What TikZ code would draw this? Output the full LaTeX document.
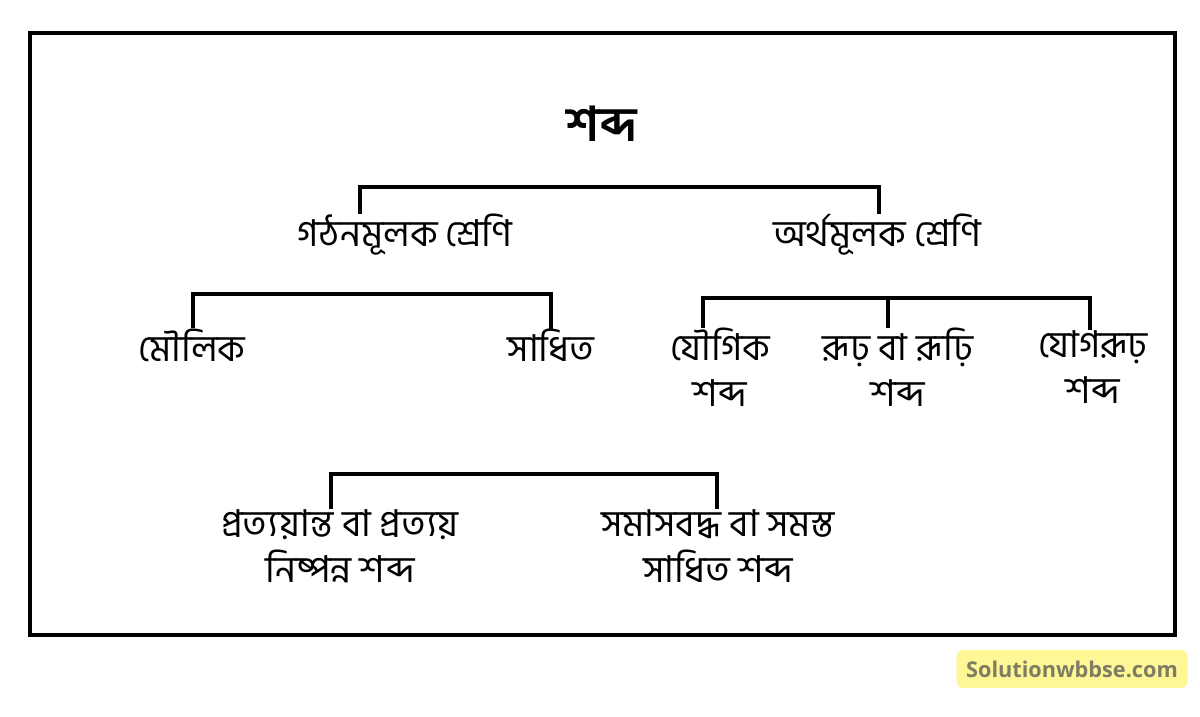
\documentclass[tikz,border=0pt]{standalone}
\usepackage{fontspec}
\newfontfamily\bn[Script=Bengali]{Hind Siliguri}
\newfontfamily\wm{Open Sans}
\definecolor{wmyellow}{RGB}{255,246,150}
\definecolor{wmgray}{RGB}{125,125,100}

\begin{document}
\begin{tikzpicture}[x=1pt,y=-1pt,
    lbl/.style={font=\bn\fontsize{37}{46}\selectfont, inner sep=0pt, align=center},
    bar/.style={line width=4pt}]
    \useasboundingbox (0,0) rectangle (1200,716);
    \draw [line width=4pt] (30,33) rectangle (1175,635);

    % top
    \node[lbl,font=\bn\bfseries\fontsize{48}{50}\selectfont] (shabda) at (602,124) {শব্দ};
    \node[lbl] (gathan) at (405,235) {গঠনমূলক শ্রেণি};
    \node[lbl] (artha) at (877,235) {অর্থমূলক শ্রেণি};
    \coordinate (b1l) at (360,187);
    \coordinate (b1r) at (879,187);
    \draw [bar] (b1l |- gathan.north) -- (b1l) -- (b1r) -- (b1r |- artha.north);

    % gathan
    \node[lbl] (maulik) at (192,345) {মৌলিক};
    \node[lbl] (sadhit) at (551,345) {সাধিত};
    \coordinate (b2l) at (193,294);
    \coordinate (b2r) at (551,294);
    \draw [bar] (b2l |- maulik.north) -- (b2l) -- (b2r) -- (b2r |- sadhit.north);

    % artha
    \node[lbl] (yaugik) at (720,367) {যৌগিক\\শব্দ};
    \node[lbl] (rudha) at (898,367) {রূঢ় বা রূঢ়ি\\শব্দ};
    \node[lbl] (yogrudha) at (1093,367) {যোগরূঢ়\\শব্দ};
    \coordinate (b3l) at (703,298);
    \coordinate (b3m) at (888,298);
    \coordinate (b3r) at (1090,298);
    \draw [bar] (b3l |- yaugik.north) -- (b3l) -- (b3r) -- (b3r |- yogrudha.north);
    \draw [bar] (b3m) -- (b3m |- rudha.north);

    % sadhit
    \node[lbl] (pratyay) at (340,546) {প্রত্যয়ান্ত বা প্রত্যয়\\নিষ্পন্ন শব্দ};
    \node[lbl] (samas) at (718,546) {সমাসবদ্ধ বা সমস্ত\\সাধিত শব্দ};
    \coordinate (b4l) at (331,474);
    \coordinate (b4r) at (717,474);
    \draw [bar] (b4l |- pratyay.north) -- (b4l) -- (b4r) -- (b4r |- samas.north);

    % watermark
    \node[fill=wmyellow, rounded corners=7pt, minimum width=231pt, minimum height=38pt,
        text=wmgray, font=\wm\bfseries\fontsize{21.7}{24}\selectfont] (wmark) at (1072,669) {Solutionwbbse.com};
\end{tikzpicture}
\end{document}
